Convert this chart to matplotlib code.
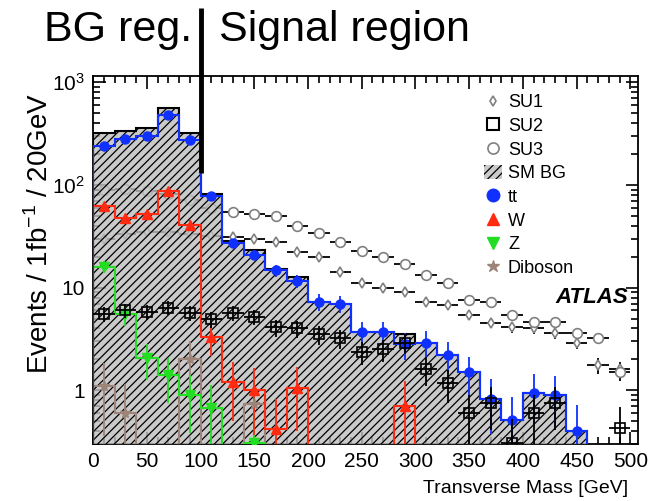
import numpy as np
import matplotlib
matplotlib.use("Agg")
import matplotlib.pyplot as plt
from matplotlib.lines import Line2D
from matplotlib.patches import Patch
from matplotlib.ticker import FixedLocator, MultipleLocator, LogLocator, NullFormatter

plt.rcParams['font.family'] = ['Liberation Sans', 'DejaVu Sans']
plt.rcParams['hatch.color'] = 'black'
plt.rcParams['hatch.linewidth'] = 0.9

# 20 GeV bins, 0 - 500 GeV
edges = np.arange(0, 520, 20)
centers = edges[:-1] + 10

# backgrounds (events / 1 fb^-1 / 20 GeV)
ttbar = [240, 282, 302, 475, 276, 78, 27, 21, 14.7, 11.5, 7.3, 7.0, 3.7, 3.7, 2.8,
         2.9, 2.2, 1.5, 0.83, 0.51, 0.95, 0.9, 0.4, 0, 0]
wjets = [62, 48, 52, 87, 41, 3.3, 1.2, 1.0, 0.42, 1.05, 0, 0, 0, 0, 0.7,
         0, 0, 0, 0, 0, 0, 0, 0, 0, 0]
zjets = [16, 5.5, 2.05, 1.4, 0.9, 0.67, 0, 0.31, 0, 0, 0, 0, 0, 0, 0,
         0, 0, 0, 0, 0, 0, 0, 0, 0, 0]
diboson = [1.1, 0.6, 0, 0, 2.0, 0, 0, 0.74, 0, 0, 0, 0, 0, 0, 0,
           0, 0, 0, 0, 0, 0, 0, 0, 0, 0]

# SUSY benchmark points
su1 = [30, 33, 35, 35, 33, 32, 31, 29.5, 27.6, 22, 19.7, 14.3, 11.2, 10, 9,
       7.3, 6.8, 5.4, 4.5, 4.1, 4.0, 3.6, 2.9, 1.75, 1.6]
su2 = [5.5, 6.0, 5.8, 6.4, 5.7, 4.9, 5.7, 5.2, 4.1, 4.0, 3.5, 3.2, 2.36, 2.5, 2.9,
       1.6, 1.17, 0.6, 0.75, 0.31, 0.6, 0.75, 0, 0, 0.43]
su3 = [90, 92, 88, 82, 72, 60, 54, 52, 50, 40, 34, 28, 22.6, 20, 16.8,
       13.4, 11.2, 7.6, 7.2, 5.4, 4.6, 4.6, 3.6, 3.2, 1.5]

# MC event weights, used for the statistical error bars
weights = {'tt': 0.25, 'W': 0.4, 'Z': 0.3, 'VV': 0.5, 'SU1': 0.05, 'SU2': 0.15, 'SU3': 0.05}

boundary = 100  # GeV, BG / signal region split

ttbar, wjets, zjets, diboson = map(np.array, (ttbar, wjets, zjets, diboson))
su1, su2, su3 = map(np.array, (su1, su2, su3))
smbg = ttbar + wjets + zjets + diboson

floor = 1e-3
fig = plt.figure(figsize=(6.63, 5.01), dpi=100)
ax = fig.add_axes([0.1403, 0.1138, 0.822, 0.7345])
ax.set_yscale('log')

# SU1 / SU3 drawn below the SM hatch, SU2 on top
signals = [
    (su1, 'd', '#808080', 'white', 'SU1', 5, 2),
    (su3, 'o', '#808080', 'white', 'SU3', 7, 2),
    (su2, 's', 'black', 'none', 'SU2', 7, 6),
]
for vals, mk, col, face, key, ms, z in signals:
    m = vals > 0
    err = np.sqrt(vals[m] * weights[key])
    ax.errorbar(centers[m], vals[m], xerr=10, yerr=err, fmt=mk, mfc=face,
                mec=col, mew=1.2, ms=ms, ecolor='black', elinewidth=1.3,
                capsize=0, zorder=z)

# total SM background, hatched
fillc = (0.74, 0.74, 0.74, 0.8)
ax.stairs(np.maximum(smbg, floor), edges, baseline=floor, fill=True,
          facecolor=fillc, edgecolor='black', hatch='////', linewidth=0, zorder=3)
ax.stairs(np.maximum(smbg, floor), edges, color='black', linewidth=1.5, zorder=3)

brown = '#9c8479'
samples = [
    (diboson, brown, '*', 'VV', 8),
    (zjets, '#22dd22', 'v', 'Z', 6.5),
    (wjets, '#ff2a10', '^', 'W', 6.5),
    (ttbar, '#1030ff', 'o', 'tt', 6.5),
]
for vals, col, mk, key, ms in samples:
    ax.stairs(np.maximum(vals, floor), edges, color=col, linewidth=1.5, zorder=4)
    m = vals > 0
    err = np.sqrt(vals[m] * weights[key])
    ax.errorbar(centers[m], vals[m], yerr=err, fmt=mk, color=col, ms=ms,
                elinewidth=1.3, capsize=0, zorder=5)

ax.set_xlim(0, 507)
ax.set_ylim(0.3, 1150)

ax.xaxis.set_major_locator(MultipleLocator(50))
ax.xaxis.set_minor_locator(MultipleLocator(10))
ax.yaxis.set_major_locator(FixedLocator([1, 10, 100, 1000]))
ax.yaxis.set_minor_locator(LogLocator(base=10, subs=np.arange(2, 10)))
ax.yaxis.set_minor_formatter(NullFormatter())
ax.set_yticklabels(['1', '10', r'$\mathregular{10^{2}}$', r'$\mathregular{10^{3}}$'])

ax.tick_params(which='both', direction='in', top=True, right=True,
               labelsize=15, width=1.2)
ax.tick_params(which='major', length=9, pad=6)
ax.tick_params(which='minor', length=5)
for sp in ax.spines.values():
    sp.set_linewidth(1.3)

ax.set_xlabel('Transverse Mass [GeV]', fontsize=14, ha='right', va='center')
ax.xaxis.set_label_coords(0.982, -0.12)
ax.set_ylabel(r'Events / 1fb$^{\mathregular{-1}}$ / 20GeV', fontsize=20, va='center')
ax.yaxis.set_label_coords(-0.097, 0.573)

ax.text(0.982, 0.397, 'ATLAS', transform=ax.transAxes, ha='right', va='center',
        fontsize=16, fontweight='bold', fontstyle='italic')

handles = [
    Line2D([], [], ls='none', marker='d', mfc='white', mec='#808080', mew=1.2, ms=5),
    Line2D([], [], ls='none', marker='s', mfc='white', mec='black', mew=1.5, ms=9),
    Line2D([], [], ls='none', marker='o', mfc='white', mec='#808080', mew=1.2, ms=8),
    Patch(facecolor=fillc, edgecolor='black', hatch='////', linewidth=0),
    Line2D([], [], ls='none', marker='o', color='#1030ff', ms=9),
    Line2D([], [], ls='none', marker='^', color='#ff2a10', ms=9),
    Line2D([], [], ls='none', marker='v', color='#22dd22', ms=9),
    Line2D([], [], ls='none', marker='*', color=brown, ms=9),
]
labels = ['SU1', 'SU2', 'SU3', 'SM BG', 'tt', 'W', 'Z', 'Diboson']
ax.legend(handles, labels, loc='upper left', bbox_to_anchor=(0.69, 0.99),
          frameon=False, fontsize=13, handlelength=1.0, handleheight=0.8,
          handletextpad=0.35, labelspacing=0.36, borderpad=0.3)

# BG / signal region separator
trans = ax.get_xaxis_transform()
ax.plot([boundary, boundary], [0.736, 1.185], transform=trans, color='black',
        lw=3.5, clip_on=False, zorder=10, solid_capstyle='butt')
ax.annotate('BG reg.', xy=(boundary, 1.125), xycoords=trans, xytext=(-8, 0),
            textcoords='offset pixels', ha='right', va='center', fontsize=31)
ax.annotate('Signal region', xy=(boundary, 1.125), xycoords=trans, xytext=(18, 0),
            textcoords='offset pixels', ha='left', va='center', fontsize=31)

fig.savefig('out.png', dpi=100)
